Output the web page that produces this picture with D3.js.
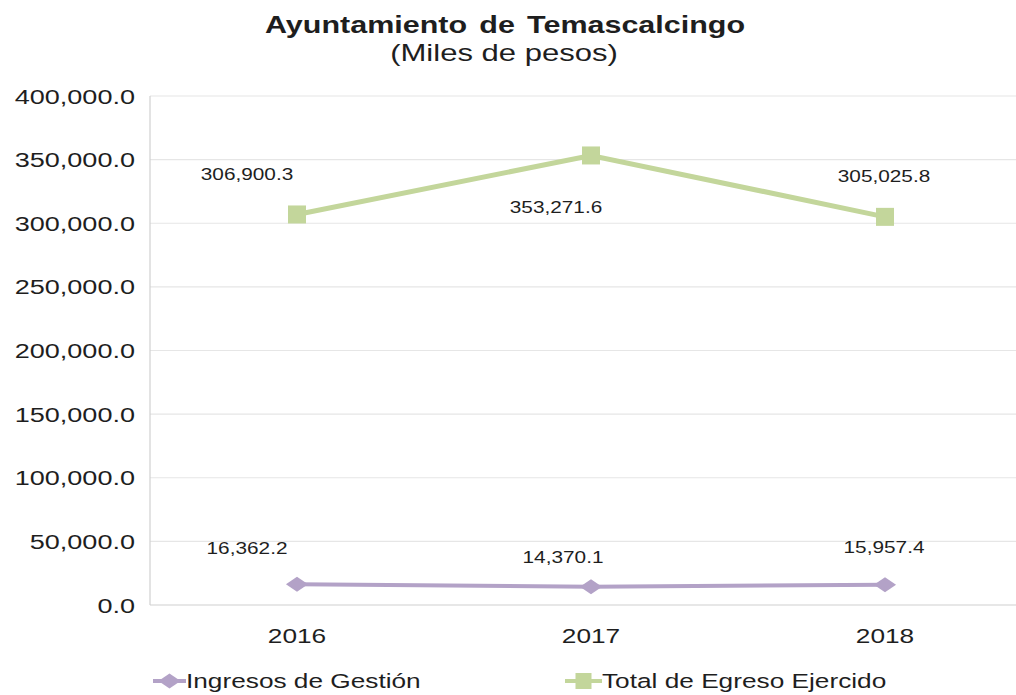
<!DOCTYPE html>
<html>
<head>
<meta charset="utf-8">
<script src="https://cdn.jsdelivr.net/npm/d3@7"></script>
<style>
  body { margin: 0; background: #fff; }
  text { font-family: 'Liberation Sans', Arial, sans-serif; fill: #1e1e1e; }
</style>
</head>
<body>
<svg id="chart" width="1016" height="695"></svg>
<script>
const years = ['2016', '2017', '2018'];
const ingresos = [16362.2, 14370.1, 15957.4];
const egresos = [306900.3, 353271.6, 305025.8];
const yTicks = [0, 50000, 100000, 150000, 200000, 250000, 300000, 350000, 400000];
const seriesNames = ['Ingresos de Gestión', 'Total de Egreso Ejercido'];

// the picture is stretched sideways, so texts get a horizontal scale
const width = 1016, height = 695;
const margin = { top: 96, left: 150, bottom: 90 };

const svg = d3.select('#chart');

const x = d3
  .scaleBand()
  .domain(years)
  .range([margin.left, margin.left + 3 * 294]);

const y = d3
  .scaleLinear()
  .domain([0, 400000])
  .range([height - margin.bottom, margin.top]);

const fmt = d3.format(',.1f');

function stretchText(g, px, py, str, sx = 1.3) {
  return g
    .append('text')
    .attr('transform', `translate(${px},${py}) scale(${sx},1)`)
    .text(str);
}

// gridlines
svg
  .append('g')
  .selectAll('line')
  .data(yTicks)
  .join('line')
  .attr('x1', margin.left)
  .attr('x2', width)
  .attr('y1', d => y(d))
  .attr('y2', d => y(d))
  .attr('stroke', d => (d === 0 ? '#d0d0d0' : '#e6e6e6'))
  .attr('stroke-width', 1.2);

svg
  .append('line')
  .attr('x1', margin.left)
  .attr('x2', margin.left)
  .attr('y1', y(400000))
  .attr('y2', y(0))
  .attr('stroke', '#d0d0d0')
  .attr('stroke-width', 1.2);

// y tick labels
const yLab = svg.append('g').attr('font-size', 20.5).attr('text-anchor', 'end');
yTicks.forEach(t => {
  stretchText(yLab, 135, y(t) + 7.5, fmt(t), 1.32);
});

// x labels
const xLab = svg.append('g').attr('font-size', 21).attr('text-anchor', 'middle');
years.forEach(yr => {
  stretchText(xLab, x(yr) + x.bandwidth() / 2, 643, yr, 1.25);
});

const cx = d => x(d) + x.bandwidth() / 2;

const line = d3
  .line()
  .x((d, i) => cx(years[i]))
  .y(d => y(d));

// Total de Egreso Ejercido
svg
  .append('path')
  .datum(egresos)
  .attr('fill', 'none')
  .attr('stroke', '#c3d69b')
  .attr('stroke-width', 5)
  .attr('d', line);

svg
  .append('g')
  .selectAll('rect')
  .data(egresos)
  .join('rect')
  .attr('x', (d, i) => cx(years[i]) - 9)
  .attr('y', d => y(d) - 9)
  .attr('width', 18)
  .attr('height', 18)
  .attr('fill', '#c3d69b');

// Ingresos de Gestión
svg
  .append('path')
  .datum(ingresos)
  .attr('fill', 'none')
  .attr('stroke', '#b3a2c7')
  .attr('stroke-width', 4)
  .attr('d', line);

const diamond = d3.symbol().type(d3.symbolDiamond2).size(200);
svg
  .append('g')
  .selectAll('path')
  .data(ingresos)
  .join('path')
  .attr('transform', (d, i) => `translate(${cx(years[i])},${y(d)}) scale(1.25,0.85)`)
  .attr('d', diamond)
  .attr('fill', '#b3a2c7');

// data labels (hand placed in the original)
const egresoOffsets = [[-50, -34], [-35, 58], [-1, -35]];
const ingresoOffsets = [[-50, -30], [-28, -24], [-1, -32]];
const dl = svg.append('g').attr('font-size', 16).attr('text-anchor', 'middle');
egresos.forEach((v, i) => {
  stretchText(dl, cx(years[i]) + egresoOffsets[i][0], y(v) + egresoOffsets[i][1], fmt(v));
});
ingresos.forEach((v, i) => {
  stretchText(dl, cx(years[i]) + ingresoOffsets[i][0], y(v) + ingresoOffsets[i][1], fmt(v));
});

// title
const title = svg.append('g').attr('text-anchor', 'middle');
stretchText(title, 505, 33, 'Ayuntamiento de Temascalcingo', 1.27)
  .attr('font-size', 24)
  .attr('font-weight', 'bold')
  .attr('word-spacing', 3);
stretchText(title, 504, 61, '(Miles de pesos)', 1.35).attr('font-size', 23);

// legend
const legend = svg.append('g').attr('font-size', 20.5);
const legendItems = [
  { name: seriesNames[0], color: '#b3a2c7', x0: 153, tx: 186, shape: 'diamond' },
  { name: seriesNames[1], color: '#c3d69b', x0: 565, tx: 602, shape: 'square' }
];
legendItems.forEach(it => {
  legend
    .append('line')
    .attr('x1', it.x0)
    .attr('x2', it.tx)
    .attr('y1', 681)
    .attr('y2', 681)
    .attr('stroke', it.color)
    .attr('stroke-width', 4);
  const mid = (it.x0 + it.tx) / 2;
  if (it.shape === 'diamond') {
    legend
      .append('path')
      .attr('transform', `translate(${mid},681) scale(1.25,0.85)`)
      .attr('d', diamond)
      .attr('fill', it.color);
  } else {
    legend
      .append('rect')
      .attr('x', mid - 8)
      .attr('y', 673)
      .attr('width', 16)
      .attr('height', 16)
      .attr('fill', it.color);
  }
  stretchText(legend, it.tx, 688, it.name, 1.28);
});
</script>
</body>
</html>
